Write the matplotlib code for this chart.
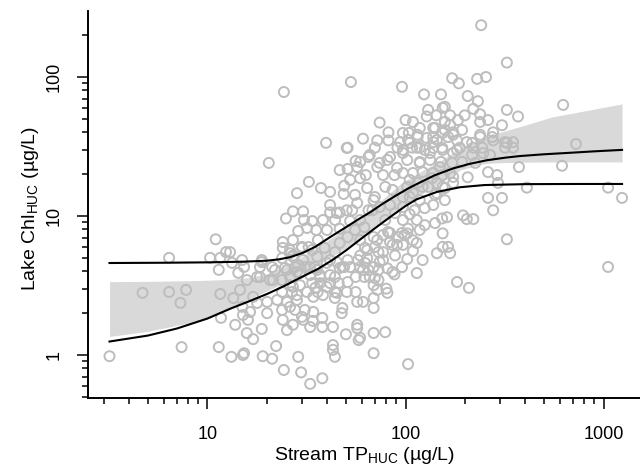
import matplotlib
matplotlib.use("Agg")
import matplotlib.pyplot as plt
from matplotlib.ticker import LogLocator, NullFormatter, FixedLocator, FixedFormatter

plt.rcParams['font.family'] = ['Liberation Sans', 'DejaVu Sans']
plt.rcParams['mathtext.fontset'] = 'custom'
plt.rcParams['mathtext.rm'] = 'Liberation Sans'
plt.rcParams['mathtext.it'] = 'Liberation Sans:italic'

# ---- scatter data: (stream TP, lake Chl) ----
pts = [
(3.2,0.98),(4.7,2.8),(6.4,2.84),(7.8,2.94),(7.3,2.37),(6.4,5.0),(7.4,1.14),(11.0,6.8),(10.3,5.0),(11.6,5.0),
(12.4,5.5),(11.4,4.1),(11.6,2.75),(11.7,1.85),(11.4,1.14),(13.2,0.97),(15.1,1.0),(15.3,1.03),(13.8,1.65),(15.8,1.44),
(17.0,1.30),(18.8,1.54),(22.2,1.16),(19.0,0.98),(21.2,0.94),(24.3,0.78),(28.7,0.97),(29.7,0.75),(33,0.62),(13.5,2.57),
(14.6,2.94),(15.0,2.22),(15.1,1.94),(16.0,1.79),(16.4,2.04),(17.8,2.37),(20.0,2.0),(20.0,2.41),(24.0,1.79),(27.0,1.65),
(25.2,1.51),(30.4,1.79),(33,1.59),(24.0,6.5),(26.1,5.4),(30.0,6.0),(14.3,3.9),(15.8,3.46),(18.4,3.64),(21.4,3.46),
(25.2,4.09),(28.7,4.43),(13.3,4.6),(15.3,4.3),(18.8,4.66),(21.9,4.09),(17.0,2.62),(22.5,2.49),(26.1,2.22),(28.3,2.7),
(34.2,2.04),(35.0,3.04),(27.0,3.09),(35.8,4.09),(33.8,5.7),
(20.4,24.1),(24.3,78),(32.5,17.6),(28.3,14.6),(37.4,15.9),(46.5,21.4),(51,21.8),(56,24.9),(49,16.5),(48.7,14.4),
(39.7,33.6),(50.5,30.9),(27,10.8),(30.4,10.8),(24.9,9.6),(30.7,9.36),(33.8,9.2),(28.7,7.8),(31.8,8.2),(35.4,7.93),
(38.3,9.36),(41.6,12.0),(41.6,10.6),(44.1,9.36),(46.5,10.6),(53.8,11.0),(52.5,9.2),(40.1,7.93),(27.0,6.72),
(36.1,6.72),(26.1,5.69),(30.0,5.9),(18.8,4.82),(14.95,4.82),(13.0,5.5),(23.8,4.98),(21.2,4.29),(27.0,5.2),
(53,92),(96,85),(172,98),(186,90),(230,97),(255,100),(325,127),(241,236),(124,75),(151,75),
(206,73),(232,67),(130,58),(154,60),(128,52),(143,53),(168,53),(220,59),(238,54),(325,58),
(370,52),(625,63),(74,47),(100,49),(109,47.5),(82,40),(118,43),(138,43),(158,47.5),(184,49),
(238,47.5),(261,49),(307,45),(61,36),(104,39.6),(103,35.3),(115,37),(128,36.4),(141,43),(158,41.6),
(164,37),(174,40),(182,35),(204,34),(238,37),(277,40),(277,35),(72,35),(82,35),(94,34),
(51,31),(70,31),
(91,31),(105,33.6),(118,31),(138,34),(153,31),(182,29.9),(220,31),(244,31),(318,34),(349,34),
(349,31),(318,31),(726,33),(374,22.5),(617,23),(206,19),(261,20.7),(290,19.7),(293,17.3),(410,16),
(1054,16),(1240,13.5),(261,13.5),(307,13.5),(277,11),(195,10.1),(204,9.5),(220,9.5),(153,9.6),(141,8.9),
(154,7.5),(325,6.8),(164,6.0),(168,5.4),(1054,4.3),(182,3.35),(209,3.04),(125,8.6),(114,9.36),(111,11.0),
(125,11.4),(138,12),(141,14.2),(158,13.0),(174,17.3),(154,16.2),(168,20.4),(118,7.93),(102,7.5),(109,6.7),
(97,6.2),(114,6.4),(109,5.6),(102,4.9),(88,3.8),(80,3.0),(81,4.2),(69,2.57),(69,2.18),(57,1.56),
(58,1.28),(50,1.41),(43,1.59),(38,1.85),(38,1.59),(34,1.76),(30,1.88),(27.7,2.11),(31,2.11),(23.8,2.11),
(25.2,2.41),(28.3,2.49),(34.2,2.62),(38.3,2.7),(44,2.84),(50.5,2.84),(57,2.41),(61,2.41),(48,2.18),(44,2.57),
(36,2.84),(31.8,2.84),(26.7,2.84),(23.8,2.84),(56,2.84),(46,3.29),(51,3.35),(56,3.64),(41.6,3.29),(37,3.29),
(33.8,3.29),(29.3,3.18),(26.1,3.18),(62,3.64),(70,3.58),(73,4.09),(65,4.09),(59,4.29),(52.5,4.29),(46.5,4.23),
(41.6,3.76),(37,3.76),(33,3.76),(29.3,3.89),(26.1,3.64),(23.8,3.46),(74,4.66),(64,4.98),(57.6,4.82),(51,4.82),
(45,4.66),(40,4.6),(35,4.29),(31,4.29),(27.7,4.29),(24.6,4.23),(77,5.5),(70,5.98),(62.4,5.9),(83.5,6.5),
(92,7.06),(90.6,6.2),(99,7.3),(77,7.3),(69,7.06),(81.6,7.67),(57,1.65),(69,1.44),(79,1.46),(43,1.18),
(59,1.33),(43,1.09),(44,0.97),(69,1.03),(103,0.86),(38,0.68),(61,4.09),(66,3.64),(73,3.46),(69,3.18),
(47.6,2.0),
(59,18.7),(65,26.6),(74,24.1),(83.5,26.6),(90.6,22.2),(97,28.4),(114,31),(118,24.1),(133,28.4),(144,35.3),
(149,22.5),(45,10.5),(50.5,11.0),(57,12.4),(59,9.36),(65,11),(70,13.7),(74,11.6),(79,16.2),(86,15.4),
(83.5,12),(97,13.7),(105,18.2),(109,14.6),(122,16.2),(136,18.7),(144,14.6),(158,15.9),(162,9.8),(96,7.55),
(83.5,7.55),(72,6.72),(64,5.69),(62.4,4.6),(59,6.72),(51,7.06),(46.5,6.4),(44,5.5),(41.6,4.82),(39,5.9),
(35.8,5.1),(32.4,5.98),(30.4,4.82),(27,5.1),(24,5.9),(28.3,3.96),(33,4.29),
(37,3.64),(44,3.64),(48,4.29),(69,4.29),(77,4.82),(86,3.96),(96,4.29),(114,3.89),(122,4.82),(144,5.4),
(154,6.0),(40,3.09),(45,2.8),(72,2.94),(81,2.8),(20.7,3.46),(18.4,4.29),(17.8,3.64),
(97,39.6),(115,38.4),(138,37),(154,39.6),(174,38.4),(238,38.4),(274,37),(325,33.6),(217,33.6),(247,28.4),
(267,27.5),(217,27.5),(188,31),(174,28.4),(154,29.9),(138,30.9),(125,29.9),(108,31),(97,29.9),(102,25.3),
(118,24.5),(133,25.3),(151,24.5),(172,24.1),(193,24.5),(225,24.1),(97,20.4),(109,20.4),(122,20.7),(138,20.4),
(154,19.7),(174,19.1),(102,16.2),(115,17.3),(130,16.2),(144,17.3),(105,13.7),(118,13.0),(97,11.6),(105,10.3),
(97,9.36),(103,8.1),
(59,24.5),(66,27.5),(63,19.7),(72,22.5),(81,25.3),(88,19.7),(52.5,18.2),(41.6,14.9),(55.6,14.2),(64,15.9),
(77,19.7),(69,13.0),(88.5,10.5),(79,9.36),(62,8.3),(46.5,8.1),(55.6,7.93),(68,11),(86,6.2),(59,5.2),
(49,4.29),(88.5,5.2),(73,5.5),(193,41.6),(168,45.2),(199,53),(158,61),(57,22.5),
]
tp = [p[0] for p in pts]
chl = [p[1] for p in pts]

# ---- confidence band ----
band_x  = [3.2, 5, 8, 10, 13, 16, 20, 25, 30, 40, 50, 70, 94, 120, 150, 190, 250, 300, 400, 550, 800, 1240]
band_lo = [1.36, 1.48, 1.70, 1.85, 2.18, 2.5, 2.9, 3.35, 3.85, 4.85, 5.9, 8.2, 11.3, 14.3, 17.5, 21.5, 23.8, 24.2, 24.4, 24.5, 24.5, 24.5]
band_hi = [3.37, 3.39, 3.42, 3.45, 3.5, 3.6, 3.85, 4.4, 5.1, 6.6, 8.2, 11.8, 17, 21, 25, 31, 36, 40, 45, 51.6, 57, 64]

# ---- fitted curves ----
curveA_x = [3.2, 6, 10, 15, 20, 23, 26, 30, 35, 41.6, 50, 58, 66, 77, 90, 104, 118, 140, 174, 210, 258, 320, 378, 500, 677, 900, 1240]
curveA_y = [4.59, 4.61, 4.64, 4.69, 4.77, 4.88, 5.05, 5.4, 6.0, 7.05, 8.3, 9.5, 10.6, 12.3, 14.1, 15.9, 17.4, 19.6, 22.0, 23.7, 25.2, 26.3, 27.0, 27.8, 28.5, 29.2, 29.9]
curveB_x = [3.2, 5, 7, 10, 13, 16.4, 20, 24, 30, 36, 43, 50, 60, 72, 85, 100, 114, 144, 188, 250, 400, 700, 1240]
curveB_y = [1.25, 1.38, 1.55, 1.83, 2.15, 2.45, 2.75, 3.1, 3.65, 4.15, 4.85, 5.65, 6.9, 8.4, 10.0, 11.8, 13.2, 14.9, 16.1, 16.7, 16.95, 17.0, 17.0]

x_ticks = [10, 100, 1000]
y_ticks = [1, 10, 100]

fig = plt.figure(figsize=(6.4, 4.66), dpi=100)
ax = fig.add_axes([0.1375, 0.1459, 0.873, 0.8305])
ax.set_xscale('log')
ax.set_yscale('log')
ax.set_xlim(2.492, 1652)
ax.set_ylim(0.4904, 298.5)

ax.fill_between(band_x, band_lo, band_hi, color='#D9D9D9', linewidth=0, zorder=1)
ax.scatter(tp, chl, s=52, facecolors='none', edgecolors='#BDBDBD', linewidths=1.4, zorder=2)
ax.plot(curveA_x, curveA_y, color='black', lw=1.5, zorder=3)
ax.plot(curveB_x, curveB_y, color='black', lw=1.5, zorder=3)

for s in ['top', 'right']:
    ax.spines[s].set_visible(False)
for s in ['left', 'bottom']:
    ax.spines[s].set_linewidth(1.4)

ax.xaxis.set_major_locator(FixedLocator(x_ticks))
ax.xaxis.set_major_formatter(FixedFormatter([str(v) for v in x_ticks]))
ax.yaxis.set_major_locator(FixedLocator(y_ticks))
ax.yaxis.set_major_formatter(FixedFormatter([str(v) for v in y_ticks]))
ax.xaxis.set_minor_locator(LogLocator(base=10, subs=range(2, 10)))
ax.yaxis.set_minor_locator(LogLocator(base=10, subs=range(2, 10)))
ax.xaxis.set_minor_formatter(NullFormatter())
ax.yaxis.set_minor_formatter(NullFormatter())

ax.tick_params(which='major', direction='out', length=8, width=1.1, labelsize=13)
ax.tick_params(which='minor', direction='out', length=4, width=1.1)
ax.tick_params(axis='x', which='major', pad=12)
ax.tick_params(axis='y', which='major', pad=10)
for lab in ax.get_yticklabels():
    lab.set_rotation(90)
    lab.set_va('center')

ax.set_xlabel('Stream TP$_{\\mathrm{HUC}}$ (\u00b5g/L)', fontsize=14)
ax.set_ylabel('Lake Chl$_{\\mathrm{HUC}}$ (\u00b5g/L)', fontsize=14)
ax.xaxis.set_label_coords(0.495, -0.122)
ax.yaxis.set_label_coords(-0.085, 0.49)

fig.savefig('out.png', dpi=100)
